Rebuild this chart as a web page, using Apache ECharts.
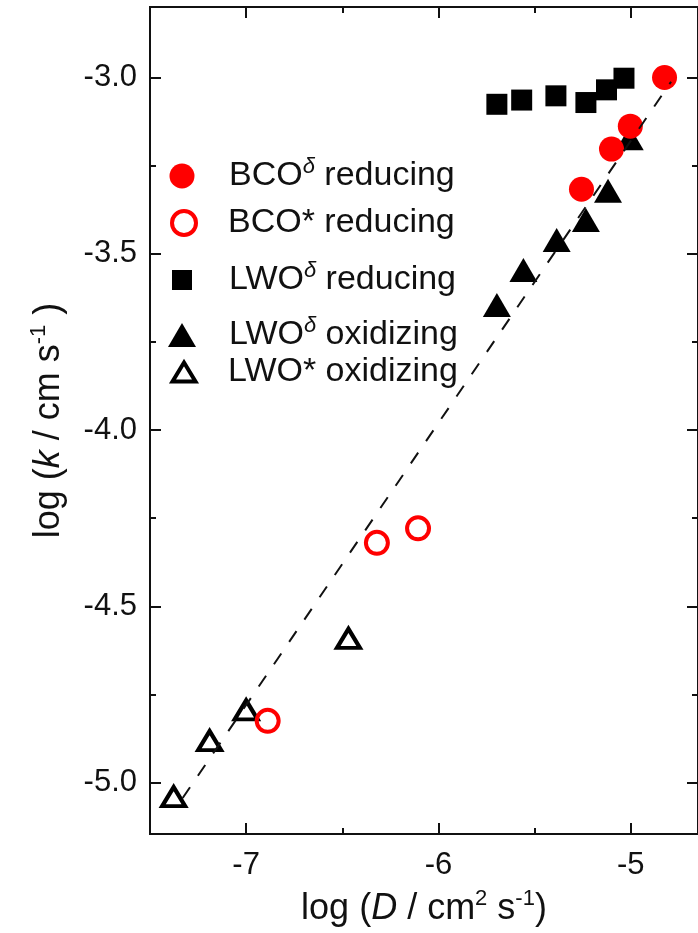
<!DOCTYPE html>
<html><head><meta charset="utf-8">
<script src="https://cdn.jsdelivr.net/npm/echarts@6/dist/echarts.min.js"></script>
<style>html,body{margin:0;padding:0;background:#fff}#c{width:698px;height:933px}</style>
</head><body><div id="c"></div>
<script>
// ---- data ----
const bcoDeltaRedX = [-5.256, -5.100, -5.002, -4.824];
const bcoDeltaRedY = [-3.317, -3.203, -3.138, -3.000];
const bcoStarRedX = [-6.888, -6.320, -6.106];
const bcoStarRedY = [-4.825, -4.320, -4.279];
const lwoDeltaRedX = [-5.696, -5.567, -5.389, -5.233, -5.126, -5.035];
const lwoDeltaRedY = [-3.076, -3.064, -3.052, -3.071, -3.035, -3.002];
const lwoDeltaOxX = [-5.696, -5.558, -5.385, -5.233, -5.118, -5.005];
const lwoDeltaOxY = [-3.645, -3.546, -3.461, -3.404, -3.321, -3.172];
const lwoStarOxX = [-7.377, -7.190, -7.000, -6.468];
const lwoStarOxY = [-5.040, -4.881, -4.794, -4.591];
const fitX = [-7.33, -4.79];
const fitY = [-5.044, -3.012];
const xMajorTicks = [-7, -6, -5];
const xMinorTicks = [-6.5, -5.5];
const yMajorTicks = [-5.0, -4.5, -4.0, -3.5, -3.0];
const yMinorTicks = [-4.75, -4.25, -3.75, -3.25];
const xRange = [-7.5, -4.65];
const yRange = [-5.146, -2.80];
const seriesNames = ['BCOd_red', 'BCOs_red', 'LWOd_red', 'LWOd_ox', 'LWOs_ox'];
const legendLabels = {
  BCOd_red: '{n|BCO}{s|δ}{n| reducing}',
  BCOs_red: '{n|BCO* reducing}',
  LWOd_red: '{n|LWO}{s|δ}{n| reducing}',
  LWOd_ox: '{n|LWO}{s|δ}{n| oxidizing}',
  LWOs_ox: '{n|LWO* oxidizing}'
};

const FONT = '"Liberation Sans", Arial, Helvetica, sans-serif';
const AX = '#111';
const pairs = (xs, ys) => xs.map((x, i) => [x, ys[i]]);

function mkX(position, ticks, len, labels, extra) {
  return Object.assign({
    type: 'value', gridIndex: 0, position: position, min: xRange[0], max: xRange[1],
    axisLine: {show: true, onZero: false, lineStyle: {color: AX, width: 2}},
    axisTick: {show: true, inside: true, length: len, customValues: ticks, lineStyle: {color: AX, width: 2}},
    axisLabel: labels ? {show: true, customValues: ticks, formatter: v => Number(v).toFixed(0),
      fontFamily: FONT, fontSize: 31, color: '#111', margin: 16} : {show: false},
    splitLine: {show: false}
  }, extra || {});
}
function mkY(position, ticks, len, labels, extra) {
  return Object.assign({
    type: 'value', gridIndex: 0, position: position, min: yRange[0], max: yRange[1],
    axisLine: {show: true, onZero: false, lineStyle: {color: AX, width: 2}},
    axisTick: {show: true, inside: true, length: len, customValues: ticks, lineStyle: {color: AX, width: 2}},
    axisLabel: labels ? {show: true, customValues: ticks, formatter: v => Number(v).toFixed(1),
      fontFamily: FONT, fontSize: 31, color: '#111', margin: 13} : {show: false},
    splitLine: {show: false}
  }, extra || {});
}

const xName = '{n|log (}{i|D}{n| / cm}{s|2}{n| s}{s|-1}{n|)}';
const yName = '{n|log (}{i|k}{n| / cm s}{s|-1}{n| )}';
const nameRich = {
  n: {fontFamily: FONT, fontSize: 36, lineHeight: 42, color: '#111'},
  i: {fontFamily: FONT, fontSize: 36, lineHeight: 42, color: '#111', fontStyle: 'italic'},
  s: {fontFamily: FONT, fontSize: 22, lineHeight: 22, color: '#111', verticalAlign: 'top'}
};

const xAxes = [
  mkX('bottom', xMajorTicks, 11, true, {name: xName, nameLocation: 'middle', nameGap: 54,
    nameTextStyle: {rich: nameRich}}),
  mkX('bottom', xMinorTicks, 6, false),
  mkX('top', xMajorTicks, 11, false),
  mkX('top', xMinorTicks, 6, false)
];
const yAxes = [
  mkY('left', yMajorTicks, 11, true, {name: yName, nameLocation: 'middle', nameGap: 80,
    nameRotate: 90, nameTextStyle: {rich: nameRich}}),
  mkY('left', yMinorTicks, 6, false),
  mkY('right', yMajorTicks, 11, false),
  mkY('right', yMinorTicks, 6, false)
];

const legendRich = {
  n: {fontFamily: FONT, fontSize: 34, lineHeight: 40, color: '#111'},
  s: {fontFamily: FONT, fontSize: 22, lineHeight: 22, color: '#111', fontStyle: 'italic', verticalAlign: 'top'}
};
const ICON_CX = 182, TEXT_X = 229;
const legendRows = [
  {name: 'BCOd_red', top: 156, w: 25, h: 25, dx: 0},
  {name: 'BCOs_red', top: 206, w: 24, h: 24, dx: -3},
  {name: 'LWOd_red', top: 260, w: 20, h: 20, dx: 0},
  {name: 'LWOd_ox', top: 315, w: 28, h: 24, dx: 0},
  {name: 'LWOs_ox', top: 355, w: 23, h: 19, dx: -3}
];
const legends = legendRows.map(r => ({
  data: [{name: r.name}],
  left: ICON_CX - r.w / 2, top: r.top, padding: 0, itemWidth: r.w, itemHeight: r.h,
  selectedMode: false,
  itemStyle: (r.name === 'BCOs_red' || r.name === 'LWOs_ox') ? {borderWidth: 4} : {},
  formatter: nm => legendLabels[nm],
  textStyle: {rich: legendRich, fontFamily: FONT, fontSize: 34,
    padding: [0, 0, 0, TEXT_X - 5 - (ICON_CX + r.w / 2) + r.dx]}
}));

const baseSeries = {type: 'scatter', xAxisIndex: 0, yAxisIndex: 0, emphasis: {disabled: true}, silent: true};
const option = {
  animation: false,
  backgroundColor: '#fff',
  grid: {left: 150, top: 7, right: -2, bottom: 99, containLabel: false},
  xAxis: xAxes,
  yAxis: yAxes,
  legend: legends,
  series: [
    Object.assign({}, baseSeries, {name: 'LWOd_red', data: pairs(lwoDeltaRedX, lwoDeltaRedY), symbol: 'rect',
      symbolSize: 21, itemStyle: {color: '#000', opacity: 1}, z: 2}),
    Object.assign({}, baseSeries, {name: 'LWOd_ox', data: pairs(lwoDeltaOxX, lwoDeltaOxY), symbol: 'triangle',
      symbolSize: [28, 24], itemStyle: {color: '#000', opacity: 1}, z: 2}),
    Object.assign({}, baseSeries, {name: 'LWOs_ox', data: pairs(lwoStarOxX, lwoStarOxY), symbol: 'triangle',
      symbolSize: [23, 19], itemStyle: {color: 'rgba(255,255,255,0)', borderColor: '#000', borderWidth: 4, opacity: 1}, z: 2}),
    Object.assign({}, baseSeries, {name: 'BCOs_red', data: pairs(bcoStarRedX, bcoStarRedY), symbol: 'circle',
      symbolSize: 22, itemStyle: {color: 'rgba(255,255,255,0)', borderColor: '#ff0000', borderWidth: 4, opacity: 1}, z: 3}),
    Object.assign({}, baseSeries, {name: 'BCOd_red', data: pairs(bcoDeltaRedX, bcoDeltaRedY), symbol: 'circle',
      symbolSize: 25, itemStyle: {color: '#ff0000', opacity: 1}, z: 3}),
    {type: 'line', name: 'fit', xAxisIndex: 0, yAxisIndex: 0, data: pairs(fitX, fitY), symbol: 'none',
      silent: true, z: 5, lineStyle: {color: '#111', width: 2, type: [13, 14]}}
  ]
};
const chart = echarts.init(document.getElementById('c'), null, {renderer: 'canvas'});
chart.setOption(option);
</script></body></html>
